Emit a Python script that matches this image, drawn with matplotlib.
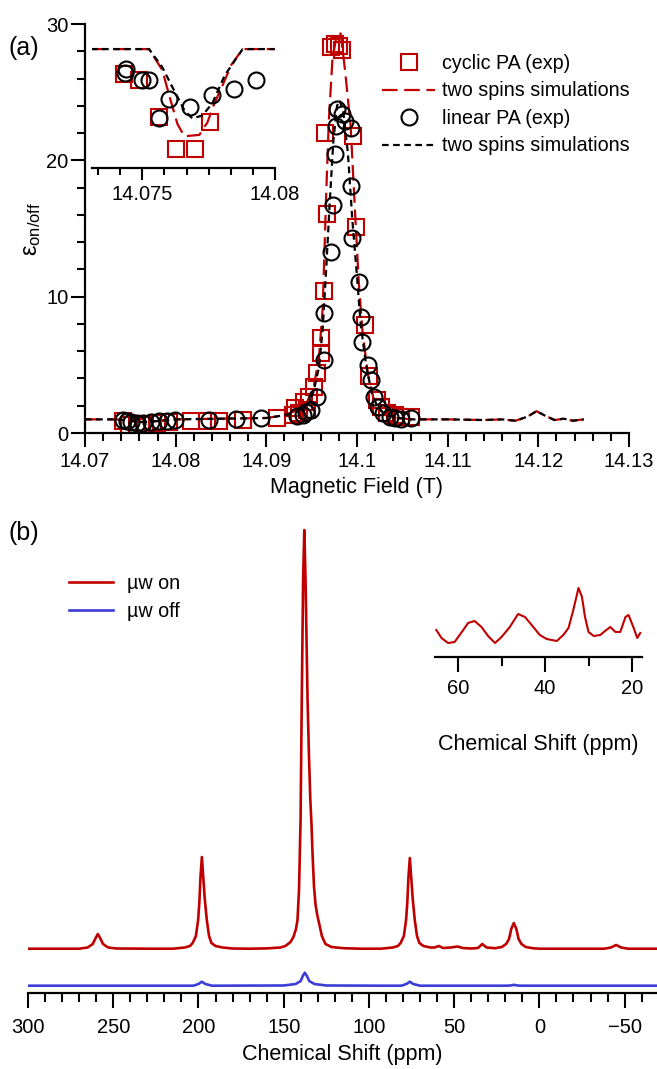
import matplotlib
matplotlib.use('Agg')
import matplotlib.pyplot as plt
from matplotlib.ticker import MultipleLocator, FixedLocator
from matplotlib.lines import Line2D

plt.rcParams['font.family'] = ['Liberation Sans', 'DejaVu Sans']
plt.rcParams['mathtext.fontset'] = 'custom'
plt.rcParams['mathtext.rm'] = 'Liberation Sans'
plt.rcParams['mathtext.it'] = 'Liberation Sans:italic'

RED = '#c00000'
BLUE = '#3c3cd8'

# ---- panel (a): enhancement vs field ----
cyc_field = [14.0742, 14.0749, 14.0757, 14.0766, 14.0779, 14.0793, 14.0817, 14.0835, 14.0848, 14.0874,
             14.0912, 14.0929, 14.0932, 14.0936, 14.0941, 14.0945, 14.0947, 14.0953, 14.0956, 14.0960,
             14.0960, 14.0964, 14.0967, 14.0965, 14.0971, 14.0976, 14.0980, 14.0984, 14.0996, 14.0999,
             14.1009, 14.1013, 14.1022, 14.1027, 14.1033, 14.1042, 14.1049, 14.1060]
cyc_eps = [0.85, 0.6, 0.46, 0.6, 0.7, 0.83, 0.85, 0.85, 0.85, 0.95,
           1.1, 1.3, 1.8, 1.45, 2.3, 1.7, 2.66, 3.4, 4.38, 5.85,
           6.95, 10.4, 16.1, 22.0, 28.3, 28.5, 28.4, 28.1, 21.8, 15.1,
           7.95, 4.2, 2.45, 1.9, 1.5, 1.35, 1.17, 1.15]

lin_field = [14.0742, 14.0746, 14.0751, 14.0757, 14.0764, 14.0773, 14.0782, 14.0790, 14.0799, 14.0837,
             14.0867, 14.0894, 14.0934, 14.0940, 14.0944, 14.0949, 14.0956, 14.0964, 14.0964, 14.0971,
             14.0973, 14.0976, 14.0977, 14.0978, 14.0984, 14.0987, 14.0993, 14.0993, 14.0995, 14.1002,
             14.1004, 14.1006, 14.1012, 14.1015, 14.1019, 14.1023, 14.1029, 14.1036, 14.1042, 14.1049,
             14.1060]
lin_eps = [0.95, 0.9, 0.83, 0.71, 0.76, 0.83, 0.88, 0.9, 0.95, 0.97,
           1.0, 1.12, 1.22, 1.32, 1.56, 1.69, 2.66, 5.36, 8.78, 13.3,
           16.7, 20.5, 22.5, 23.8, 23.4, 22.9, 22.4, 18.1, 14.3, 11.1,
           8.53, 6.7, 4.99, 3.89, 2.66, 1.93, 1.45, 1.2, 1.12, 1.05,
           1.1]

sim_cyc_field = [14.0700, 14.0730, 14.0745, 14.0760, 14.0775, 14.0800, 14.0850, 14.0900, 14.0920, 14.0935,
                 14.0945, 14.0952, 14.0958, 14.0962, 14.0964, 14.0966, 14.0969, 14.0973, 14.0978, 14.0982,
                 14.0987, 14.0993, 14.0998, 14.1002, 14.1006, 14.1012, 14.1018, 14.1024, 14.1032, 14.1045,
                 14.1060, 14.1100, 14.1140, 14.1160, 14.1175, 14.1188, 14.1198, 14.1208, 14.1218, 14.1228,
                 14.1238, 14.1250]
sim_cyc_eps = [1.0, 1.0, 0.95, 0.8, 0.85, 1.0, 1.05, 1.1, 1.3, 1.7,
               2.3, 3.3, 5.5, 9.0, 13.0, 17.5, 23.0, 27.5, 29.3, 29.3,
               26.5, 22.5, 16.0, 11.0, 7.5, 4.3, 2.6, 1.8, 1.3, 1.1,
               1.0, 1.0, 0.95, 1.0, 0.9, 1.2, 1.6, 1.25, 0.95, 1.05,
               0.9, 1.0]

sim_lin_field = [14.0700, 14.0730, 14.0745, 14.0760, 14.0775, 14.0800, 14.0850, 14.0900, 14.0920, 14.0935,
                 14.0945, 14.0952, 14.0958, 14.0962, 14.0966, 14.0970, 14.0974, 14.0978, 14.0981, 14.0985,
                 14.0990, 14.0995, 14.1000, 14.1004, 14.1010, 14.1016, 14.1022, 14.1030, 14.1045, 14.1060,
                 14.1100, 14.1140, 14.1160, 14.1175, 14.1188, 14.1198, 14.1208, 14.1218, 14.1228, 14.1238,
                 14.1250]
sim_lin_eps = [1.0, 1.0, 0.95, 0.8, 0.85, 1.0, 1.05, 1.1, 1.3, 1.6,
               2.1, 3.0, 4.8, 7.5, 12.0, 17.0, 21.5, 24.0, 24.4, 23.5,
               20.5, 15.5, 11.5, 8.0, 5.0, 3.0, 2.0, 1.4, 1.1, 1.0,
               1.0, 0.95, 1.0, 0.9, 1.2, 1.6, 1.25, 0.95, 1.05, 0.9,
               1.0]

# inset of panel (a)
ins_cyc_field = [14.07431, 14.07488, 14.07563, 14.07628, 14.07700, 14.07756]
ins_cyc_eps = [26.8, 26.4, 23.7, 21.4, 21.4, 23.3]
ins_lin_field = [14.07438, 14.07435, 14.07499, 14.07525, 14.07563, 14.07601, 14.07681, 14.07764, 14.07847, 14.07927]
ins_lin_eps = [27.2, 26.9, 26.4, 26.4, 23.6, 25.0, 24.4, 25.3, 25.7, 26.4]
ins_sim_cyc_field = [14.07306, 14.07525, 14.07575, 14.07602, 14.07632, 14.07658, 14.07715, 14.07745,
                     14.07772, 14.07798, 14.07836, 14.07878, 14.07999]
ins_sim_cyc_eps = [28.62, 28.62, 27.1, 25.2, 23.2, 22.3, 22.4, 23.3, 24.7, 25.8, 27.5, 28.62, 28.62]
ins_sim_lin_field = [14.07306, 14.07525, 14.07575, 14.07620, 14.07658, 14.07688, 14.07726, 14.07764,
                     14.07810, 14.07878, 14.07999]
ins_sim_lin_eps = [28.62, 28.62, 27.3, 25.6, 24.2, 23.6, 23.8, 24.7, 26.7, 28.62, 28.62]

# ---- panel (b): 13C spectra ----
on_ppm = [300, 285, 270, 265, 262, 260.3, 259, 257.7, 256, 253, 248,
          230, 215, 208, 205, 203.4, 201.5, 200.2, 199.5, 198.8, 198, 197.2, 196.3, 195.1, 193.8, 192.4, 190, 186, 180,
          170, 160, 152, 149, 146, 144.3, 142.8, 141.9, 141, 140.1, 139.4, 138.6, 137.9, 137.2, 136.0, 135.2,
          134.4, 133.7, 133.0, 132.2, 131.3, 130.2, 129.0, 127.6, 125.5, 122, 115, 105,
          93, 86, 83, 81.4, 79.5, 78.2, 77.5, 76.8, 76, 75.2, 74.3, 73.1, 71.8, 70.4, 68, 64,
          61.5, 59, 56.5, 52, 48, 45, 40, 36, 33.5, 31, 26, 22, 19.5, 17.8, 16.5, 15, 13.5, 12.2, 10.5, 8, 4, 0,
          -20, -38, -42, -45, -48, -52, -69]
on_int = [0.3, 0.3, 0.3, 1.5, 5, 11, 15, 11, 5, 1.5, 0.5,
          0.3, 0.3, 1.5, 3, 6, 13, 29, 46, 72, 92, 72, 50, 29, 13, 6, 3, 1.5, 0.5,
          0.3, 0.6, 1.5, 3, 7, 12, 20, 29, 60, 129, 249, 370, 419, 370, 249, 195,
          150, 125, 92, 62, 44, 33, 24, 13, 5, 2, 0.8, 0.3,
          0.3, 1.5, 3, 6, 13, 29, 46, 72, 91, 72, 50, 29, 13, 6, 3, 1.5,
          1.5, 3, 1, 1.5, 2.5, 1, 0.5, 1, 5, 1.5, 0.8, 2, 5, 10, 20, 26, 20, 10, 5, 2, 0.8, 0.3,
          0.3, 0.3, 1.5, 4, 1.5, 0.3, 0.3]

off_ppm = [300, 210, 203, 200, 198, 196, 192,
           150, 143, 140, 138.8, 137.6, 136.4, 135, 132, 125,
           90, 81, 78, 76, 74, 70,
           20, 17, 15, 13, 10, -69]
off_int = [0.3, 0.3, 0.3, 2, 4.3, 2, 0.3,
           0.5, 2, 5, 10, 13.3, 10, 5, 2, 0.5,
           0.3, 0.3, 2, 4.3, 2, 0.3,
           0.3, 0.5, 1.2, 0.5, 0.3, 0.3]

zoom_ppm = [65, 63.8, 62.3, 60.8, 58.8, 57.7, 56.2, 54.6, 53.1, 51.5,
            50, 48.1, 46.2, 44.6, 42.7, 41.2, 39.6, 37.3, 35.8, 34.6,
            33.5, 32.3, 31.5, 30.8, 30, 28.8, 27.3, 26.2, 25, 23.8,
            22.7, 21.5, 20.8, 19.6, 18.8, 18.1]
zoom_int = [27, 19, 14, 15, 27, 34, 36, 30, 21, 14,
            20, 30, 43, 40, 30, 22, 18, 16, 22, 29,
            47, 69, 60, 40, 25, 21, 22, 26, 30, 25,
            25, 40, 42, 29, 19, 24]

ON_OFFSET = 44
OFF_OFFSET = 7

TICK_FS = 14.5
LABEL_FS = 15.5
LEG_FS = 14.2

W, H = 657, 1069
fig = plt.figure(figsize=(W / 100, H / 100), dpi=100)


def px_axes(x0, y0, x1, y1):
    # box given in pixels (left, top, right, bottom)
    ax = fig.add_axes([x0 / W, 1 - y1 / H, (x1 - x0) / W, (y1 - y0) / H])
    ax.patch.set_visible(False)
    for s in ('top', 'right'):
        ax.spines[s].set_visible(False)
    for s in ('left', 'bottom'):
        ax.spines[s].set_linewidth(1.6)
    return ax


red_dash = dict(color=RED, lw=1.6, dashes=(7, 3))
blk_dash = dict(color='black', lw=1.6, dashes=(3, 2))
sq = dict(ls='none', marker='s', ms=11, mfc='none', mec=RED, mew=1.5)
ci = dict(ls='none', marker='o', ms=11.5, mfc='none', mec='black', mew=1.5)

# main panel (a)
ax = px_axes(85, 24, 629, 433)
ax.plot(sim_cyc_field, sim_cyc_eps, **red_dash)
ax.plot(cyc_field, cyc_eps, **sq)
ax.plot(lin_field, lin_eps, **ci)
ax.plot(sim_lin_field, sim_lin_eps, **blk_dash)
ax.set_xlim(14.07, 14.13)
ax.set_ylim(0, 30)
ax.xaxis.set_major_locator(MultipleLocator(0.01))
ax.xaxis.set_minor_locator(MultipleLocator(0.002))
ax.yaxis.set_major_locator(MultipleLocator(10))
ax.yaxis.set_minor_locator(MultipleLocator(2))
ax.xaxis.set_major_formatter(plt.FuncFormatter(lambda v, p: f'{v:.2f}'.rstrip('0')))
ax.tick_params(which='major', length=10, width=1.5, labelsize=TICK_FS)
ax.tick_params(which='minor', length=6, width=1.5)
ax.tick_params(axis='x', pad=4)
ax.tick_params(axis='y', pad=2)
ax.set_xlabel('Magnetic Field (T)', fontsize=LABEL_FS, labelpad=4)
ax.set_ylabel('ε$_{\\mathregular{on/off}}$', fontsize=17, labelpad=2)

# inset of (a)
ia = px_axes(92, 35, 275, 168)
ia.spines['left'].set_visible(False)
ia.plot(ins_sim_cyc_field, ins_sim_cyc_eps, **red_dash)
ia.plot(ins_cyc_field, ins_cyc_eps, **sq)
ia.plot(ins_lin_field, ins_lin_eps, **ci)
ia.plot(ins_sim_lin_field, ins_sim_lin_eps, **blk_dash)
ia.set_xlim(14.0731, 14.0800)
ia.set_ylim(20, 29.64)
ia.set_yticks([])
ia.xaxis.set_major_locator(FixedLocator([14.075, 14.08]))
ia.xaxis.set_minor_locator(MultipleLocator(0.005 / 6))
ia.set_xticklabels(['14.075', '14.08'])
ia.tick_params(which='major', length=8.5, width=1.5, labelsize=TICK_FS, pad=4)
ia.tick_params(which='minor', length=5, width=1.5)

handles = [Line2D([], [], **sq), Line2D([], [], **red_dash),
           Line2D([], [], **ci), Line2D([], [], **blk_dash)]
labels = ['cyclic PA (exp)', 'two spins simulations', 'linear PA (exp)', 'two spins simulations']
fig.legend(handles, labels, loc='upper left', bbox_to_anchor=(382 / W, 1 - 54 / H),
           frameon=False, fontsize=LEG_FS, handlelength=2.7, handletextpad=0.36,
           labelspacing=0.43, borderpad=0, borderaxespad=0)

# panel (b)
bx = px_axes(28, 520, 657, 993)
bx.spines['left'].set_visible(False)
bx.plot(on_ppm, [v + ON_OFFSET for v in on_int], color=RED, lw=1.9)
bx.plot(off_ppm, [v + OFF_OFFSET for v in off_int], color=BLUE, lw=1.9)
bx.set_xlim(300, -69)
bx.set_ylim(0, 473)
bx.set_yticks([])
bx.xaxis.set_major_locator(MultipleLocator(50))
bx.xaxis.set_minor_locator(MultipleLocator(10))
bx.xaxis.set_major_formatter(plt.FuncFormatter(lambda v, p: f'{v:.0f}'.replace('-', '\u2212')))
bx.tick_params(which='major', length=11, width=1.5, labelsize=TICK_FS, pad=7)
bx.tick_params(which='minor', length=6.5, width=1.5)
bx.set_xlabel('Chemical Shift (ppm)', fontsize=LABEL_FS, labelpad=5)

fig.legend([Line2D([], [], color=RED, lw=1.9), Line2D([], [], color=BLUE, lw=1.9)],
           ['µw on', 'µw off'], loc='upper left', bbox_to_anchor=(69 / W, 1 - 574 / H),
           frameon=False, fontsize=LEG_FS, handlelength=2.23, handletextpad=0.71,
           labelspacing=0.45, borderpad=0, borderaxespad=0)

# inset of (b)
ib = px_axes(435, 577, 642, 657)
ib.spines['left'].set_visible(False)
ib.plot(zoom_ppm, zoom_int, color=RED, lw=1.5)
ib.set_xlim(65.3, 17.7)
ib.set_ylim(0, 80)
ib.set_yticks([])
ib.xaxis.set_major_locator(MultipleLocator(20))
ib.xaxis.set_minor_locator(MultipleLocator(10))
ib.tick_params(which='major', length=11, width=1.5, labelsize=TICK_FS, pad=5)
ib.tick_params(which='minor', length=6.5, width=1.5)
ib.set_xlabel('Chemical Shift (ppm)', fontsize=LABEL_FS, labelpad=26)

fig.text(8 / W, 1 - 48 / H, '(a)', fontsize=18, va='center')
fig.text(8 / W, 1 - 533 / H, '(b)', fontsize=18, va='center')

fig.savefig('out.png', dpi=100)
